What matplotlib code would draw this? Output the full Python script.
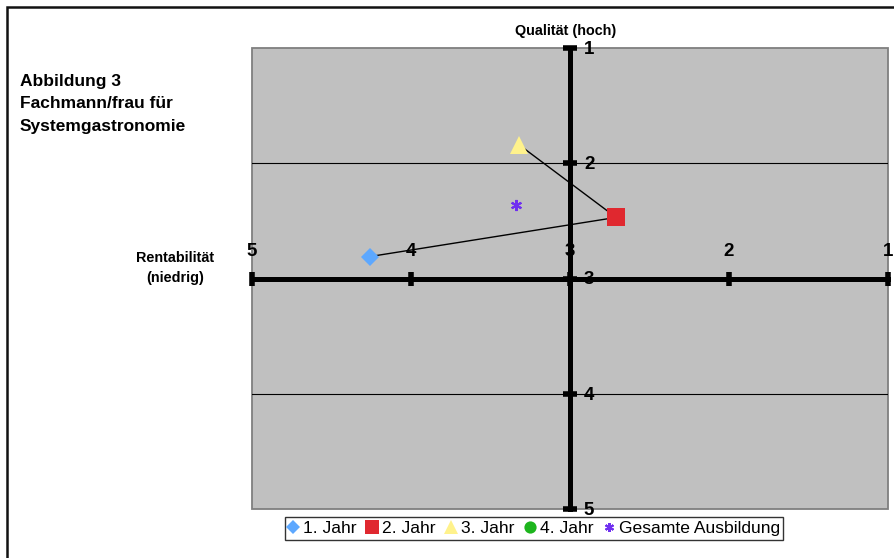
import matplotlib
matplotlib.use("Agg")
import matplotlib.pyplot as plt
from matplotlib.patches import Rectangle

plt.rcParams['font.family'] = ['Liberation Sans', 'DejaVu Sans']

# Bewertung je Ausbildungsjahr (x: Rentabilität, y: Qualität, Skala 1-5)
series_names = ['1. Jahr', '2. Jahr', '3. Jahr', '4. Jahr', 'Gesamte Ausbildung']
rentabilitaet = [4.26, 2.71, 3.32, None, 3.34]
qualitaet = [2.81, 2.47, 1.84, None, 2.36]
marker_colors = ['#5DA8FF', '#E0282F', '#FFF28C', '#1DB51D', '#7030F0']
marker_shapes = ['D', 's', '^', 'o', (6, 2, 0)]
marker_sizes = [9, 12.5, 12.5, 11, 8]

ticks = [1, 2, 3, 4, 5]
grid_y = [2, 4]

fig = plt.figure(figsize=(8.95, 5.58), dpi=100)
ax = fig.add_axes([252 / 895, 1 - 509 / 558, 636 / 895, 461 / 558])
ax.set_facecolor('#C0C0C0')
ax.set_xlim(5, 1)
ax.set_ylim(5, 1)

# Achsenkreuz in der Mitte (3/3)
for side in ['top', 'right']:
    ax.spines[side].set_visible(False)
for side in ['left', 'bottom']:
    ax.spines[side].set_position(('data', 3))
    ax.spines[side].set_linewidth(3.6)
    ax.spines[side].set_color('black')
ax.set_xticks(ticks)
ax.set_yticks(ticks)
ax.tick_params(direction='inout', length=10, width=4, color='black',
               labelleft=False, labelbottom=False)

ax.add_patch(Rectangle((0, 0), 1, 1, transform=ax.transAxes, fill=False,
                       edgecolor='#7F7F7F', linewidth=1.3, clip_on=False, zorder=1))
for g in grid_y:
    ax.axhline(g, color='black', linewidth=0.8, zorder=1)

for t in ticks:
    ax.annotate(str(t), (t, 3), xytext=(0, 13), textcoords='offset points',
                ha='center', va='bottom', fontsize=13.5, fontweight='bold',
                annotation_clip=False, zorder=2)
    ax.annotate(str(t), (3, t), xytext=(10, -1), textcoords='offset points',
                ha='left', va='center', fontsize=13.5, fontweight='bold',
                annotation_clip=False, zorder=4)

# Verlauf über die drei Jahre
ax.plot(rentabilitaet[:3], qualitaet[:3], color='black', linewidth=1, zorder=3)

handles = []
for name, xv, yv, c, m, s in zip(series_names, rentabilitaet, qualitaet,
                                 marker_colors, marker_shapes, marker_sizes):
    xs = [] if xv is None else [xv]
    ys = [] if yv is None else [yv]
    is_star = isinstance(m, tuple)
    h, = ax.plot(xs, ys, linestyle='none', marker=m, markersize=s,
                 markerfacecolor=c, markeredgecolor=c,
                 markeredgewidth=1.5 if is_star else 0, label=name, zorder=5,
                 clip_on=False)
    handles.append(h)

leg = fig.legend(handles=handles, loc='center', bbox_to_anchor=(534 / 895, 1 - 528.5 / 558),
                 ncol=5, frameon=True, fancybox=False, fontsize=12.6,
                 handlelength=0.6, handletextpad=0.25, columnspacing=0.6,
                 borderpad=0.2, markerscale=0.8)
leg.get_frame().set_edgecolor('black')
leg.get_frame().set_linewidth(1)

fig.text(20 / 895, 1 - 74 / 558, 'Abbildung 3\nFachmann/frau für\nSystemgastronomie',
         ha='left', va='top', fontsize=12.5, fontweight='bold', linespacing=1.62)
fig.text(566 / 895, 1 - 31 / 558, 'Qualität (hoch)', ha='center', va='center',
         fontsize=10.4, fontweight='bold')
fig.text(175 / 895, 1 - 268 / 558, 'Rentabilität\n(niedrig)', ha='center', va='center',
         fontsize=10.4, fontweight='bold', linespacing=1.6)

# Rahmen um die gesamte Abbildung
fig.patches.append(Rectangle((7 / 895, -0.1), 1.2, 1 - 7 / 558 + 0.1,
                             transform=fig.transFigure, fill=False,
                             edgecolor='#111111', linewidth=1.8))

fig.savefig('out.png', dpi=100)
